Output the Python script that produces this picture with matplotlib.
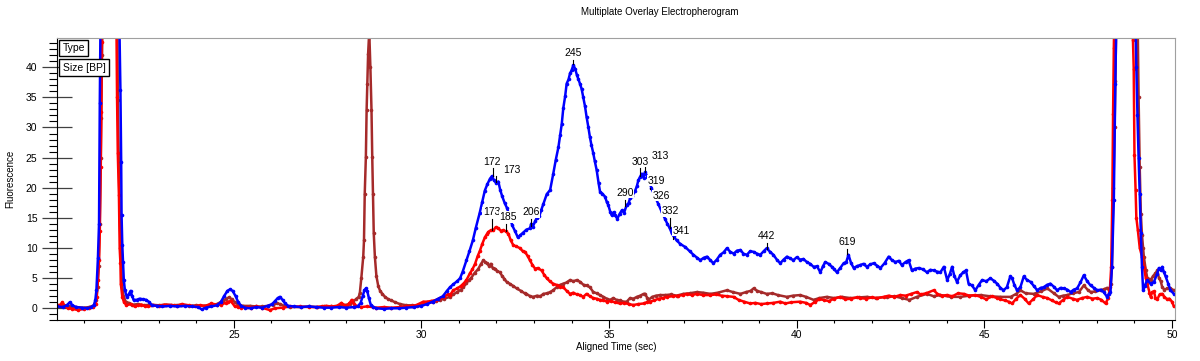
import numpy as np
import matplotlib
matplotlib.use('Agg')
import matplotlib.pyplot as plt
from matplotlib.ticker import MultipleLocator

plt.rcParams['font.family'] = ['Liberation Sans', 'DejaVu Sans']

# (time, fluorescence), one list per sample
blue_pts = [
    (20.29, 0.2), (20.45, 0.1), (20.55, 0.4), (20.63, 0.9), (20.7, 0.4), (20.8, 0.1), (20.95, 0.0),
    (21.1, -0.1), (21.2, 0.1), (21.27, 0.4), (21.31, 1.2), (21.34, 2.9), (21.38, 8.2), (21.41, 14.0),
    (21.43, 34.0), (21.45, 48.0), (21.7, 130.0), (21.95, 48.0), (21.98, 36.2), (22.0, 24.3),
    (22.01, 15.5), (22.03, 10.4), (22.05, 7.6), (22.07, 4.6), (22.1, 2.9), (22.15, 1.8), (22.2, 2.2),
    (22.25, 2.8), (22.29, 2.0), (22.33, 1.3), (22.41, 1.3), (22.49, 1.5), (22.58, 1.4), (22.67, 1.3),
    (22.75, 0.9), (22.82, 0.4), (22.95, 0.3), (23.1, 0.2), (23.3, 0.3), (23.5, 0.2), (23.7, 0.3),
    (23.9, 0.2), (24.05, 0.1), (24.15, -0.3), (24.25, 0.0), (24.4, 0.2), (24.55, 0.4), (24.65, 0.9),
    (24.75, 2.0), (24.83, 2.8), (24.9, 3.05), (24.97, 2.8), (25.05, 1.9), (25.12, 0.9), (25.2, 0.3),
    (25.3, 0.0), (25.45, -0.1), (25.6, 0.1), (25.75, 0.0), (25.9, 0.3), (26.02, 0.6), (26.1, 1.1),
    (26.17, 1.6), (26.23, 1.8), (26.3, 1.3), (26.37, 0.7), (26.45, 0.3), (26.6, 0.2), (26.8, 0.1),
    (27.0, 0.2), (27.2, 0.1), (27.4, 0.0), (27.6, 0.0), (27.8, 0.1), (28.0, 0.0), (28.2, 0.1),
    (28.3, 0.2), (28.38, 0.8), (28.44, 2.0), (28.48, 2.9), (28.52, 3.2), (28.56, 2.7), (28.6, 1.6),
    (28.65, 0.5), (28.72, 0.1), (28.8, -0.1), (29.0, -0.2), (29.2, -0.1), (29.4, -0.1), (29.6, 0.0),
    (29.8, 0.1), (30.0, 0.3), (30.15, 0.6), (30.3, 1.0), (30.45, 1.5), (30.57, 1.9), (30.68, 2.8),
    (30.76, 3.4), (30.85, 3.9), (30.95, 4.4), (31.03, 4.9), (31.1, 6.0), (31.2, 7.9), (31.28, 9.4),
    (31.37, 11.2), (31.45, 13.3), (31.55, 15.7), (31.62, 17.6), (31.69, 19.5), (31.76, 20.6),
    (31.83, 21.5), (31.88, 21.9), (31.93, 21.2), (31.99, 20.8), (32.05, 21.0), (32.1, 19.6),
    (32.15, 18.6), (32.22, 17.4), (32.28, 16.6), (32.36, 15.0), (32.42, 13.7), (32.49, 12.8),
    (32.57, 11.7), (32.64, 12.1), (32.71, 12.5), (32.8, 13.0), (32.89, 13.2), (32.93, 14.0),
    (32.97, 13.5), (33.03, 14.4), (33.08, 15.0), (33.14, 15.2), (33.19, 16.2), (33.25, 17.3),
    (33.34, 18.9), (33.43, 19.6), (33.51, 22.2), (33.58, 24.6), (33.65, 26.7), (33.7, 28.8),
    (33.74, 30.6), (33.78, 33.2), (33.83, 35.2), (33.87, 37.3), (33.92, 38.0), (33.96, 39.0),
    (34.0, 39.5), (34.05, 40.4), (34.1, 39.7), (34.14, 38.8), (34.18, 38.1), (34.23, 37.2),
    (34.27, 36.4), (34.31, 35.1), (34.36, 33.5), (34.4, 31.8), (34.45, 30.0), (34.49, 28.4),
    (34.53, 27.1), (34.58, 25.7), (34.62, 24.4), (34.67, 22.9), (34.72, 20.8), (34.76, 19.3),
    (34.82, 19.0), (34.89, 18.5), (34.94, 17.6), (34.98, 17.1), (35.03, 16.0), (35.07, 15.4),
    (35.12, 15.9), (35.16, 15.4), (35.22, 14.8), (35.28, 15.6), (35.34, 16.2), (35.4, 15.8),
    (35.47, 17.1), (35.52, 17.4), (35.56, 18.2), (35.62, 18.6), (35.69, 19.4), (35.74, 20.2),
    (35.78, 21.2), (35.83, 21.8), (35.87, 22.3), (35.92, 21.6), (35.96, 22.6), (36.02, 21.8),
    (36.08, 20.8), (36.13, 19.9), (36.2, 18.8), (36.31, 17.3), (36.4, 16.0), (36.49, 14.8),
    (36.55, 14.0), (36.62, 13.2), (36.67, 12.4), (36.72, 11.9), (36.8, 11.2), (36.9, 10.6),
    (37.03, 10.1), (37.15, 9.4), (37.25, 8.8), (37.35, 8.3), (37.43, 7.9), (37.52, 8.3),
    (37.61, 8.5), (37.7, 7.9), (37.78, 7.4), (37.87, 8.0), (37.96, 8.8), (38.05, 9.2), (38.14, 9.9),
    (38.23, 9.3), (38.32, 9.0), (38.41, 9.5), (38.5, 9.6), (38.58, 9.0), (38.67, 8.8), (38.76, 9.4),
    (38.85, 9.3), (38.94, 9.0), (39.03, 8.8), (39.12, 9.4), (39.2, 9.9), (39.29, 9.3), (39.38, 8.8),
    (39.47, 8.0), (39.56, 7.4), (39.65, 8.0), (39.74, 8.5), (39.83, 8.2), (39.91, 7.9), (40.0, 8.4),
    (40.09, 8.0), (40.18, 8.1), (40.27, 7.6), (40.36, 7.3), (40.45, 6.8), (40.54, 6.9), (40.63, 5.9),
    (40.7, 6.9), (40.76, 7.6), (40.85, 7.3), (40.94, 6.8), (41.0, 6.4), (41.07, 5.9), (41.16, 6.6),
    (41.25, 7.4), (41.32, 7.6), (41.38, 8.8), (41.45, 7.4), (41.52, 6.6), (41.6, 6.9), (41.69, 7.1),
    (41.78, 7.3), (41.87, 6.8), (41.96, 7.2), (42.05, 7.4), (42.14, 7.0), (42.23, 6.6), (42.34, 7.4),
    (42.45, 8.5), (42.54, 7.9), (42.63, 7.6), (42.72, 7.8), (42.8, 7.1), (42.9, 7.6), (42.98, 7.9),
    (43.07, 6.2), (43.16, 6.5), (43.25, 6.6), (43.36, 6.4), (43.47, 5.9), (43.56, 6.3), (43.65, 6.2),
    (43.74, 6.0), (43.83, 5.9), (43.92, 6.8), (44.01, 4.6), (44.08, 5.6), (44.14, 6.8), (44.2, 5.3),
    (44.27, 4.3), (44.36, 5.4), (44.44, 5.9), (44.51, 6.2), (44.58, 4.0), (44.67, 3.7), (44.76, 2.9),
    (44.85, 3.8), (44.94, 4.6), (45.05, 4.4), (45.16, 4.9), (45.25, 4.5), (45.34, 4.0), (45.43, 3.3),
    (45.51, 2.9), (45.6, 3.4), (45.69, 5.2), (45.74, 4.9), (45.8, 3.8), (45.87, 2.9), (45.96, 3.4),
    (46.05, 5.2), (46.14, 4.6), (46.23, 4.3), (46.32, 3.6), (46.41, 2.9), (46.5, 3.3), (46.58, 3.4),
    (46.67, 3.8), (46.76, 4.0), (46.85, 3.5), (46.94, 2.9), (47.03, 3.3), (47.12, 3.2), (47.21, 3.0),
    (47.3, 2.6), (47.38, 3.0), (47.47, 3.2), (47.56, 4.2), (47.65, 5.4), (47.74, 4.4), (47.83, 3.7),
    (47.92, 3.3), (48.01, 2.9), (48.1, 3.0), (48.18, 2.6), (48.27, 1.8), (48.32, 2.3), (48.36, 2.6),
    (48.4, 6.8), (48.45, 17.9), (48.49, 37.3), (48.52, 50.0), (48.75, 110.0), (49.02, 50.0),
    (49.05, 40.0), (49.08, 32.0), (49.11, 25.0), (49.14, 19.0), (49.17, 12.4), (49.2, 6.8),
    (49.23, 2.9), (49.27, 3.6), (49.34, 4.6), (49.43, 4.0), (49.52, 4.3), (49.6, 5.6), (49.65, 6.6),
    (49.7, 6.2), (49.74, 6.8), (49.78, 6.0), (49.83, 5.2), (49.9, 4.0), (49.96, 2.9), (50.05, 2.3),
]

red_pts = [
    (20.29, 0.4), (20.38, 0.5), (20.43, 0.9), (20.5, 0.3), (20.58, -0.1), (20.7, -0.2), (20.85, -0.4),
    (21.0, -0.2), (21.15, -0.1), (21.25, 0.1), (21.32, 0.6), (21.35, 1.8), (21.38, 4.6), (21.41, 7.9),
    (21.43, 12.7), (21.45, 23.4), (21.47, 32.6), (21.48, 44.3), (21.5, 50.0), (21.7, 120.0),
    (21.87, 50.0), (21.89, 35.0), (21.91, 25.7), (21.94, 18.7), (21.96, 9.9), (21.98, 7.4),
    (21.99, 4.0), (22.03, 1.8), (22.07, 1.0), (22.14, 0.4), (22.25, 0.6), (22.36, 0.2), (22.45, 0.4),
    (22.54, 0.5), (22.63, 0.3), (22.72, 0.2), (22.85, 0.4), (23.0, 0.3), (23.15, 0.5), (23.34, 0.45),
    (23.5, 0.3), (23.61, 0.6), (23.8, 0.4), (23.96, 0.2), (24.1, 0.4), (24.25, 0.3), (24.4, 0.7),
    (24.55, 0.5), (24.67, 0.5), (24.78, 0.8), (24.85, 1.0), (24.92, 1.1), (25.03, 0.2), (25.12, 0.1),
    (25.2, 0.0), (25.35, 0.1), (25.47, 0.0), (25.6, 0.2), (25.75, 0.0), (25.96, -0.4), (26.1, -0.1),
    (26.3, 0.0), (26.5, 0.2), (26.76, 0.2), (27.0, 0.1), (27.21, 0.1), (27.35, 0.2), (27.47, 0.3),
    (27.6, 0.2), (27.75, 0.3), (27.87, 0.8), (27.95, 0.4), (28.01, 0.3), (28.08, 0.7), (28.14, 1.3),
    (28.2, 0.6), (28.27, 0.3), (28.4, 0.1), (28.54, 0.2), (28.7, 0.1), (28.8, 0.0), (29.0, 0.1),
    (29.2, 0.0), (29.43, 0.1), (29.6, 0.2), (29.75, 0.3), (29.87, 0.45), (30.05, 1.0), (30.14, 1.0),
    (30.25, 1.1), (30.4, 1.3), (30.49, 1.6), (30.6, 1.8), (30.7, 2.2), (30.76, 2.1), (30.85, 2.9),
    (30.95, 3.2), (31.05, 3.6), (31.12, 4.0), (31.2, 4.6), (31.29, 5.7), (31.36, 6.4), (31.43, 7.3),
    (31.5, 8.6), (31.56, 9.5), (31.62, 10.6), (31.69, 11.7), (31.74, 12.2), (31.78, 12.6),
    (31.85, 12.9), (31.92, 12.9), (31.98, 13.4), (32.05, 13.2), (32.12, 12.8), (32.18, 12.9),
    (32.25, 12.7), (32.32, 12.3), (32.38, 11.2), (32.45, 10.4), (32.53, 10.2), (32.63, 9.9),
    (32.7, 9.4), (32.76, 9.3), (32.83, 8.6), (32.89, 7.9), (32.96, 7.1), (33.03, 6.5), (33.1, 6.6),
    (33.2, 6.2), (33.27, 5.5), (33.34, 4.9), (33.42, 4.4), (33.51, 4.0), (33.6, 3.8), (33.7, 3.5),
    (33.78, 3.4), (33.87, 2.8), (33.96, 2.3), (34.05, 2.5), (34.14, 2.2), (34.23, 2.1), (34.31, 1.8),
    (34.4, 2.3), (34.49, 1.9), (34.58, 1.6), (34.67, 1.5), (34.76, 1.3), (34.85, 1.2), (34.95, 1.0),
    (35.05, 1.1), (35.15, 0.9), (35.29, 0.7), (35.4, 0.8), (35.52, 0.6), (35.65, 0.45), (35.78, 0.6),
    (35.92, 0.7), (36.0, 0.9), (36.09, 1.0), (36.2, 1.2), (36.32, 1.5), (36.43, 1.6), (36.54, 1.8),
    (36.7, 1.9), (36.85, 2.0), (36.98, 2.1), (37.07, 2.3), (37.2, 2.1), (37.34, 2.3), (37.5, 2.1),
    (37.69, 2.1), (37.85, 2.2), (38.0, 2.0), (38.15, 1.9), (38.32, 1.8), (38.45, 1.3), (38.6, 1.0),
    (38.76, 0.7), (38.9, 0.8), (39.05, 0.6), (39.2, 0.7), (39.38, 0.8), (39.56, 1.0), (39.7, 0.7),
    (39.85, 0.9), (40.09, 1.0), (40.25, 0.8), (40.36, 0.45), (40.5, 1.0), (40.6, 1.4), (40.72, 1.3),
    (40.85, 1.1), (41.0, 1.5), (41.16, 1.8), (41.3, 1.4), (41.45, 1.5), (41.6, 1.7), (41.69, 1.6),
    (41.85, 1.5), (42.0, 1.7), (42.15, 1.6), (42.32, 1.8), (42.45, 2.0), (42.6, 1.8), (42.76, 2.1),
    (42.9, 2.0), (43.05, 2.3), (43.2, 2.6), (43.3, 2.2), (43.45, 2.4), (43.65, 2.9), (43.75, 2.3),
    (43.88, 2.0), (44.0, 2.1), (44.15, 1.9), (44.3, 2.4), (44.45, 2.3), (44.6, 2.0), (44.75, 2.1),
    (44.9, 1.8), (45.05, 1.4), (45.2, 1.9), (45.34, 1.6), (45.43, 1.4), (45.55, 1.2), (45.65, 1.0),
    (45.74, 0.7), (45.85, 1.5), (45.96, 2.1), (46.07, 1.5), (46.18, 0.7), (46.3, 1.4), (46.41, 2.1),
    (46.55, 1.8), (46.68, 1.6), (46.8, 1.2), (46.9, 0.9), (46.98, 0.7), (47.1, 1.3), (47.21, 1.8),
    (47.35, 1.5), (47.47, 1.3), (47.6, 1.6), (47.74, 1.8), (47.88, 1.5), (48.01, 1.6), (48.12, 1.3),
    (48.23, 0.7), (48.3, 1.6), (48.35, 3.5), (48.38, 6.8), (48.41, 18.0), (48.43, 32.3), (48.45, 43.3),
    (48.48, 55.0), (48.72, 120.0), (48.94, 55.0), (48.96, 44.5), (48.98, 39.8), (49.0, 25.4),
    (49.03, 19.6), (49.05, 15.0), (49.09, 12.9), (49.14, 10.0), (49.2, 8.5), (49.25, 6.8), (49.3, 5.0),
    (49.34, 4.0), (49.4, 2.5), (49.43, 1.8), (49.47, 2.6), (49.52, 2.7), (49.56, 1.6), (49.61, 1.4),
    (49.67, 2.2), (49.74, 2.3), (49.8, 1.8), (49.87, 1.4), (49.93, 1.5), (50.0, 1.0), (50.05, 0.2),
]

brown_pts = [
    (20.29, 0.3), (20.45, 0.5), (20.6, 0.2), (20.8, 0.1), (21.0, 0.0), (21.15, 0.1), (21.28, 0.4),
    (21.33, 1.2), (21.37, 3.5), (21.4, 7.0), (21.43, 14.0), (21.46, 25.0), (21.47, 31.6), (21.49, 42.0),
    (21.51, 50.0), (21.72, 120.0), (21.9, 50.0), (21.91, 34.5), (21.94, 22.9), (21.96, 15.4),
    (21.99, 8.9), (22.02, 4.0), (22.06, 2.0), (22.12, 1.0), (22.2, 0.8), (22.3, 0.5), (22.45, 0.6),
    (22.6, 0.4), (22.8, 0.5), (23.0, 0.4), (23.2, 0.5), (23.4, 0.4), (23.6, 0.5), (23.8, 0.3),
    (24.0, 0.4), (24.2, 0.3), (24.4, 0.5), (24.55, 0.6), (24.7, 1.1), (24.8, 1.5), (24.87, 1.7),
    (24.95, 1.4), (25.03, 0.9), (25.12, 0.5), (25.25, 0.3), (25.43, 0.3), (25.6, 0.2), (25.75, 0.2),
    (25.9, 0.3), (26.05, 0.5), (26.15, 0.7), (26.23, 0.6), (26.35, 0.3), (26.5, 0.1), (26.8, 0.1),
    (27.0, 0.2), (27.21, 0.1), (27.4, 0.2), (27.6, 0.2), (27.8, 0.3), (28.01, 0.5), (28.1, 0.6),
    (28.18, 1.0), (28.27, 1.5), (28.33, 1.8), (28.36, 2.5), (28.4, 5.0), (28.45, 8.5), (28.47, 11.2),
    (28.49, 19.0), (28.52, 25.1), (28.54, 32.9), (28.56, 37.3), (28.58, 42.3), (28.61, 46.0),
    (28.64, 40.1), (28.67, 32.9), (28.69, 25.1), (28.71, 19.0), (28.73, 12.4), (28.76, 8.5),
    (28.8, 5.3), (28.85, 3.6), (28.9, 2.8), (28.96, 2.3), (29.03, 1.8), (29.12, 1.4), (29.2, 1.2),
    (29.3, 0.9), (29.43, 0.6), (29.6, 0.4), (29.75, 0.4), (29.87, 0.3), (30.0, 0.5), (30.15, 0.7),
    (30.31, 1.0), (30.4, 1.1), (30.5, 1.3), (30.6, 1.5), (30.76, 1.8), (30.85, 2.2), (30.95, 2.6),
    (31.05, 3.0), (31.12, 3.4), (31.2, 4.1), (31.27, 4.6), (31.33, 5.0), (31.42, 5.8), (31.51, 6.4),
    (31.58, 7.2), (31.65, 7.9), (31.7, 7.6), (31.74, 7.4), (31.8, 7.0), (31.85, 7.3), (31.9, 6.6),
    (31.96, 6.5), (32.02, 6.1), (32.09, 5.9), (32.15, 5.3), (32.21, 4.8), (32.27, 4.3), (32.35, 4.0),
    (32.45, 3.6), (32.54, 3.2), (32.65, 2.8), (32.75, 2.4), (32.8, 2.3), (32.9, 1.9), (32.98, 1.8),
    (33.08, 2.0), (33.17, 1.9), (33.25, 2.3), (33.35, 2.4), (33.43, 2.6), (33.51, 2.9), (33.6, 3.4),
    (33.7, 3.8), (33.78, 4.0), (33.87, 4.2), (33.96, 4.6), (34.05, 4.4), (34.14, 4.6), (34.23, 4.3),
    (34.32, 3.8), (34.4, 3.7), (34.49, 3.4), (34.58, 2.6), (34.67, 2.4), (34.76, 2.1), (34.85, 1.8),
    (34.94, 1.5), (35.03, 1.3), (35.11, 1.6), (35.2, 1.3), (35.3, 1.2), (35.38, 1.0), (35.47, 1.0),
    (35.56, 1.6), (35.65, 1.5), (35.74, 1.8), (35.83, 2.0), (35.92, 2.3), (35.96, 2.3), (36.02, 1.6),
    (36.05, 1.3), (36.15, 1.8), (36.25, 2.0), (36.36, 2.1), (36.5, 2.1), (36.65, 2.2), (36.8, 2.0),
    (36.98, 2.3), (37.15, 2.4), (37.34, 2.6), (37.5, 2.5), (37.7, 2.3), (37.9, 2.5), (38.14, 2.9),
    (38.3, 2.6), (38.5, 2.3), (38.65, 2.6), (38.77, 2.8), (38.85, 3.2), (38.95, 2.8), (39.05, 2.6),
    (39.2, 2.3), (39.35, 2.4), (39.5, 2.1), (39.74, 1.8), (39.9, 2.0), (40.09, 2.1), (40.25, 1.8),
    (40.45, 1.3), (40.6, 1.6), (40.8, 1.8), (41.0, 1.6), (41.2, 1.8), (41.43, 1.6), (41.65, 1.7),
    (41.87, 1.8), (42.1, 1.6), (42.4, 1.8), (42.6, 1.9), (42.8, 1.6), (43.0, 1.3), (43.2, 1.8),
    (43.47, 2.3), (43.65, 1.9), (43.83, 2.1), (44.1, 1.8), (44.36, 1.8), (44.6, 2.0), (44.9, 2.1),
    (45.15, 1.9), (45.43, 1.8), (45.7, 1.8), (45.85, 2.3), (45.96, 2.9), (46.1, 2.4), (46.32, 2.3),
    (46.5, 2.7), (46.68, 3.2), (46.85, 2.4), (46.98, 1.8), (47.1, 2.0), (47.21, 2.1), (47.35, 2.4),
    (47.52, 2.6), (47.65, 3.7), (47.75, 3.0), (47.83, 2.6), (47.95, 2.7), (48.1, 2.9), (48.2, 3.1),
    (48.27, 3.3), (48.33, 2.9), (48.37, 4.0), (48.4, 6.8), (48.44, 20.0), (48.47, 30.0), (48.49, 37.8),
    (48.52, 50.0), (48.78, 110.0), (49.08, 50.0), (49.11, 35.0), (49.14, 23.4), (49.17, 15.6),
    (49.2, 12.1), (49.23, 10.0), (49.25, 8.5), (49.3, 6.3), (49.34, 5.0), (49.38, 4.8), (49.43, 4.6),
    (49.5, 5.3), (49.56, 5.7), (49.61, 6.2), (49.65, 5.0), (49.7, 4.4), (49.74, 3.4), (49.8, 3.0),
    (49.87, 3.2), (49.96, 3.2), (50.05, 2.9),
]

# peak size labels: text, peak time, peak height, label x, label y
peak_text = ['173', '172', '206', '245', '290', '313', '303', '319', '326', '332', '341', '442', '619',
             '173', '185']
peak_x = [32.0, 31.9, 32.93, 34.05, 35.43, 35.96, 35.83, 36.09, 36.17, 36.63, 36.7, 39.2, 41.35,
          31.87, 32.25]
peak_y = [21.0, 21.9, 13.6, 40.5, 17.0, 22.6, 22.0, 19.8, 17.5, 13.2, 11.4, 9.8, 8.9,
          12.9, 12.8]
label_x = [32.4, 31.87, 32.92, 34.05, 35.43, 36.36, 35.83, 36.27, 36.4, 36.63, 36.93, 39.2, 41.35,
           31.87, 32.31]
label_y = [23.0, 24.3, 15.9, 42.4, 19.1, 25.2, 24.3, 21.1, 18.6, 16.1, 12.8, 11.9, 10.9,
           15.9, 15.1]

series_colors = {'brown': '#a52a2a', 'red': '#ff0000', 'blue': '#0000ff'}


def plot_overlay():
    fig = plt.figure(figsize=(12, 3.61), dpi=100)
    ax = fig.add_axes([57 / 1200, 1 - 320 / 361, 1118 / 1200, 282 / 361])

    # brown under red under blue, as in the instrument export
    for name, pts in [('brown', brown_pts), ('red', red_pts), ('blue', blue_pts)]:
        arr = np.array(pts)
        ax.plot(arr[:, 0], arr[:, 1], color=series_colors[name], lw=1.8,
                marker='o', ms=2.6, mew=0, zorder=2)

    # labels, plus the little tick from label down to the peak
    for txt, px, py, tx, ty in zip(peak_text, peak_x, peak_y, label_x, label_y):
        top = ty - 1.1
        if top > py:
            ax.plot([px, px], [py, top], color='black', lw=0.8, zorder=3)
        ax.text(tx, ty, txt, ha='center', va='center', fontsize=7.5, zorder=4,
                bbox=dict(boxstyle='square,pad=0.05', fc='white', ec='none'))

    ax.set_xlim(20.29, 50.08)
    ax.set_ylim(-2.05, 44.9)

    ax.xaxis.set_major_locator(MultipleLocator(5))
    ax.xaxis.set_minor_locator(MultipleLocator(1))
    ax.yaxis.set_major_locator(MultipleLocator(5))
    ax.yaxis.set_minor_locator(MultipleLocator(1))
    ax.tick_params(axis='x', which='major', direction='out', length=5.8, width=0.8, pad=1.5,
                   labelsize=7.5)
    ax.tick_params(axis='x', which='minor', direction='out', length=2.5, width=0.8)
    ax.tick_params(axis='y', which='major', direction='inout', length=22, width=0.9,
                   color='#404040', pad=3, labelsize=7.5)
    ax.tick_params(axis='y', which='minor', direction='out', length=5.5, width=0.8)

    for side in ['top', 'right']:
        ax.spines[side].set_color('#a0a0a0')
    for side in ['left', 'bottom']:
        ax.spines[side].set_color('black')

    ax.set_xlabel('Aligned Time (sec)', fontsize=7, labelpad=1)
    ax.set_ylabel('Fluorescence', fontsize=7, labelpad=8)

    ax.text(0.005, 0.965, 'Type', transform=ax.transAxes, fontsize=7.5, va='center', ha='left',
            zorder=5, bbox=dict(boxstyle='square,pad=0.3', fc='white', ec='black', lw=1))
    ax.text(0.005, 0.895, 'Size [BP]', transform=ax.transAxes, fontsize=7.5, va='center', ha='left',
            zorder=5, bbox=dict(boxstyle='square,pad=0.3', fc='white', ec='black', lw=1))

    fig.text(660 / 1200, 1 - 12 / 361, 'Multiplate Overlay Electropherogram', ha='center',
             va='center', fontsize=7)

    fig.savefig('out.png', dpi=100)


if __name__ == '__main__':
    plot_overlay()
